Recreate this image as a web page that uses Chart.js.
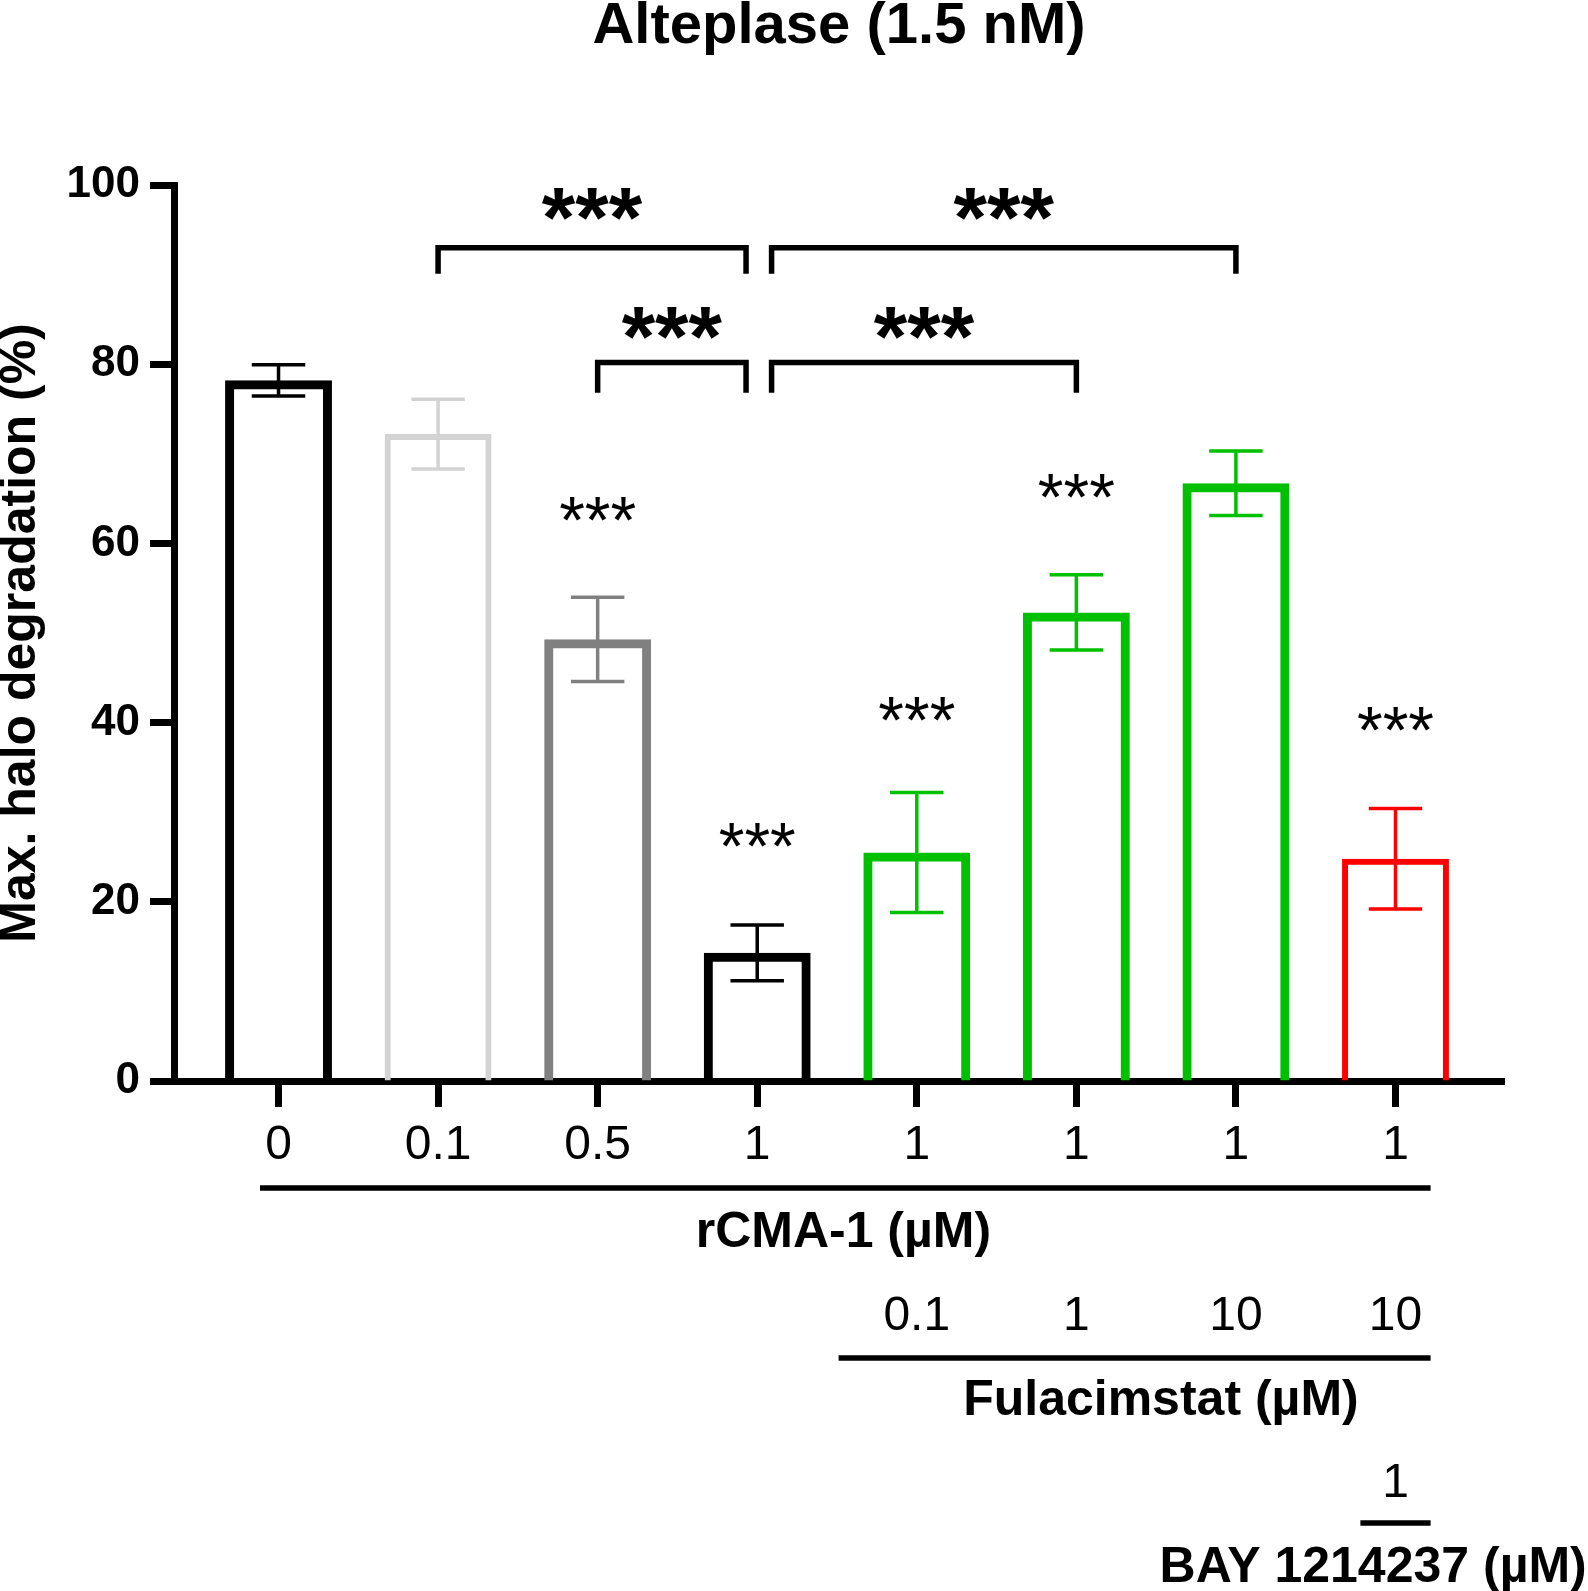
<!DOCTYPE html>
<html>
<head>
<meta charset="utf-8">
<script src="https://cdn.jsdelivr.net/npm/chart.js@4.4.1/dist/chart.umd.min.js"></script>
<style>
    html, body { margin: 0; padding: 0; background: #fff; }
    #wrap { width: 1588px; height: 1591px; }
</style>
</head>
<body>
<div id="wrap"><canvas id="myChart"></canvas></div>
<script>
// rows of concentrations under the x axis, one entry per bar
const rcmaLabels = ['0', '0.1', '0.5', '1', '1', '1', '1', '1'];
const fulacimstatLabels = ['', '', '', '', '0.1', '1', '10', '10'];
const bayLabels = ['', '', '', '', '', '', '', '1'];

// Max. halo degradation (%): mean and error per bar
const means = [78.2, 72.2, 49.3, 14.3, 25.5, 52.3, 66.7, 24.8];
const errors = [1.75, 3.9, 4.7, 3.1, 6.7, 4.2, 3.6, 5.6];

const yTicks = [0, 20, 40, 60, 80, 100];

// *** over single bars (null = nothing)
const starLevels = [null, null, 63.8, 27.5, 41.5, 66.4, null, 40.4];

// comparison brackets (bar index units and % units)
const brackets = [
    { from: 1, to: 2.93, level: 93.0, drop: 90.1, stars: 97.9 },
    { from: 3.09, to: 6, level: 93.0, drop: 90.1, stars: 97.9 },
    { from: 2, to: 2.93, level: 80.2, drop: 76.8, stars: 84.6 },
    { from: 3.09, to: 5, level: 80.2, drop: 76.8, stars: 84.6 }
];

const barColors = ['#000000', '#d3d3d3', '#808080', '#000000', '#00c000', '#00c000', '#00c000', '#ff0000'];
const barBorders = [9, 6, 9, 9, 9, 9, 9, 6];

const FONT = "'Liberation Sans', Arial, sans-serif";

document.addEventListener('DOMContentLoaded', function () {
    const ctx = document.getElementById('myChart').getContext('2d');

    // white page behind everything
    const background = {
        id: 'background',
        beforeDraw(chart) {
            const c = chart.ctx;
            c.save();
            c.fillStyle = '#ffffff';
            c.fillRect(0, 0, chart.width, chart.height);
            c.restore();
        }
    };

    // helper: draw text so that its glyphs are centred on y
    function centredText(c, text, x, y) {
        const m = c.measureText(text);
        const asc = m.actualBoundingBoxAscent, desc = m.actualBoundingBoxDescent;
        c.textBaseline = 'alphabetic';
        c.fillText(text, x, y + (asc - desc) / 2);
    }

    // error bars, stars, brackets, titles and the extra label rows
    const extras = {
        id: 'extras',
        afterDatasetsDraw(chart) {
            const c = chart.ctx;
            const ys = chart.scales.y;
            const meta = chart.getDatasetMeta(0);
            c.save();
            c.lineCap = 'butt';
            meta.data.forEach((bar, i) => {
                const top = ys.getPixelForValue(means[i] + errors[i]);
                const bot = ys.getPixelForValue(means[i] - errors[i]);
                const half = bar.width * 0.25;
                c.strokeStyle = barColors[i];
                c.lineWidth = 3.5;
                c.beginPath();
                c.moveTo(bar.x, top); c.lineTo(bar.x, bot);
                c.moveTo(bar.x - half, top); c.lineTo(bar.x + half, top);
                c.moveTo(bar.x - half, bot); c.lineTo(bar.x + half, bot);
                c.stroke();
            });
            c.restore();
        },
        afterDraw(chart) {
            const c = chart.ctx;
            const xs = chart.scales.x, ys = chart.scales.y;
            const area = chart.chartArea;
            c.save();
            c.fillStyle = '#000';
            c.strokeStyle = '#000';
            c.textAlign = 'center';

            // title
            c.font = 'bold 58px ' + FONT;
            c.textBaseline = 'alphabetic';
            c.fillText('Alteplase (1.5 nM)', (area.left + area.right) / 2, 43);

            // y axis title
            c.save();
            c.translate(22, (area.top + area.bottom) / 2);
            c.rotate(-Math.PI / 2);
            c.font = 'bold 50px ' + FONT;
            centredText(c, 'Max. halo degradation (%)', 0, 0);
            c.restore();

            // stars over bars
            c.font = '66px ' + FONT;
            starLevels.forEach((lv, i) => {
                if (lv === null) return;
                centredText(c, '***', xs.getPixelForValue(i), ys.getPixelForValue(lv));
            });

            // brackets
            c.lineWidth = 5.5;
            c.lineJoin = 'miter';
            brackets.forEach(b => {
                const x1 = xs.getPixelForValue(b.from), x2 = xs.getPixelForValue(b.to);
                const yl = ys.getPixelForValue(b.level), yd = ys.getPixelForValue(b.drop);
                c.beginPath();
                c.moveTo(x1, yd); c.lineTo(x1, yl); c.lineTo(x2, yl); c.lineTo(x2, yd);
                c.stroke();
                c.font = 'bold 86px ' + FONT;
                centredText(c, '***', (x1 + x2) / 2, ys.getPixelForValue(b.stars));
            });

            // group rows under the axis
            c.textBaseline = 'alphabetic';
            c.font = '48px ' + FONT;
            fulacimstatLabels.forEach((t, i) => { if (t) c.fillText(t, xs.getPixelForValue(i), 1330); });
            bayLabels.forEach((t, i) => { if (t) c.fillText(t, xs.getPixelForValue(i), 1497); });

            function groupLine(from, to, y) {
                c.beginPath();
                c.moveTo(xs.getPixelForValue(from), y);
                c.lineTo(xs.getPixelForValue(to), y);
                c.stroke();
            }
            c.lineWidth = 5.5;
            groupLine(-0.116, 7.22, 1188);
            groupLine(3.51, 7.22, 1358);
            groupLine(6.78, 7.22, 1523);

            c.font = 'bold 50px ' + FONT;
            c.fillText('rCMA-1 (\u00b5M)', xs.getPixelForValue(3.54), 1247);
            c.fillText('Fulacimstat (\u00b5M)', xs.getPixelForValue(5.53), 1415);
            c.fillText('BAY 1214237 (\u00b5M)', xs.getPixelForValue(6.86), 1582);
            c.restore();
        }
    };

    new Chart(ctx, {
        type: 'bar',
        data: {
            datasets: [{
                data: means.map((m, i) => ({ x: i, y: m })),
                backgroundColor: 'rgba(255,255,255,0)',
                borderColor: barColors,
                borderWidth: barBorders,
                barPercentage: 0.67,
                categoryPercentage: 1
            }]
        },
        options: {
            responsive: true,
            maintainAspectRatio: false,
            animation: false,
            layout: { padding: { left: 0, top: 185, right: 84, bottom: 0 } },
            plugins: {
                legend: { display: false },
                title: { display: false },
                tooltip: { enabled: false }
            },
            scales: {
                x: {
                    type: 'linear',
                    offset: false,
                    min: -0.655,
                    max: 7.68,
                    afterBuildTicks: scale => { scale.ticks = rcmaLabels.map((_, i) => ({ value: i })); },
                    afterFit: scale => { scale.height = 510; },
                    ticks: {
                        autoSkip: false,
                        maxRotation: 0,
                        padding: 10,
                        color: '#000',
                        font: { family: FONT, size: 48 },
                        callback: v => rcmaLabels[v]
                    },
                    grid: { offset: false, drawOnChartArea: false, tickLength: 26, tickWidth: 7, tickColor: '#000' },
                    border: { display: true, width: 7, color: '#000' }
                },
                y: {
                    min: 0,
                    max: 100,
                    afterBuildTicks: scale => { scale.ticks = yTicks.map(v => ({ value: v })); },
                    afterFit: scale => { scale.width = 174; },
                    ticks: {
                        padding: 10,
                        color: '#000',
                        font: { family: FONT, size: 44, weight: 'bold' }
                    },
                    grid: { drawOnChartArea: false, tickLength: 24, tickWidth: 7, tickColor: '#000' },
                    border: { display: true, width: 7, color: '#000' }
                }
            }
        },
        plugins: [background, extras]
    });
});
</script>
</body>
</html>
